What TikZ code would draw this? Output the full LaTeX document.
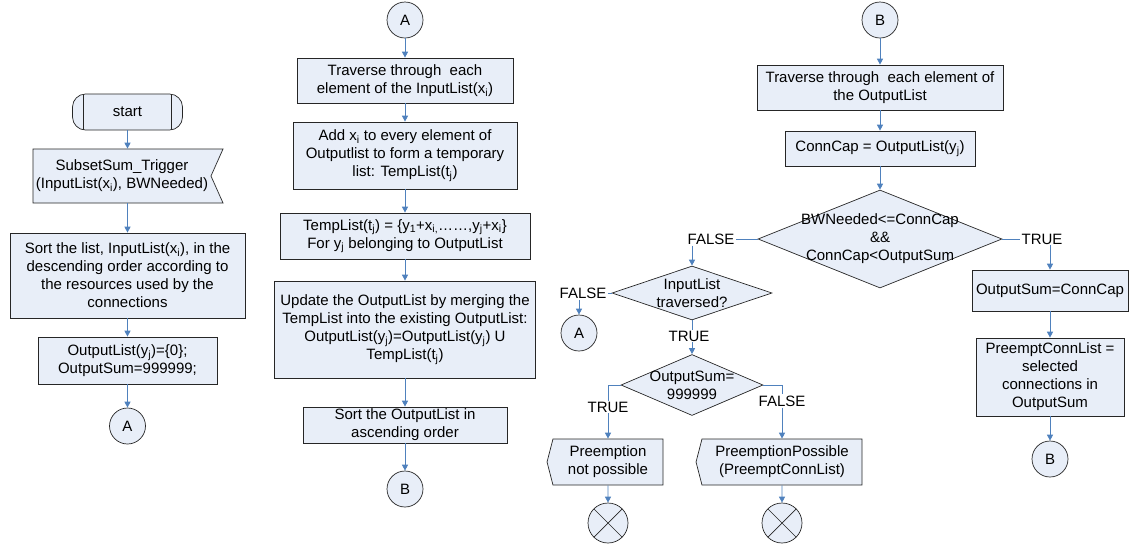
\documentclass[tikz,border=0pt]{standalone}
\usepackage{fontspec}
\setmainfont{Liberation Sans}
\usetikzlibrary{arrows.meta,shapes.geometric,shapes.symbols}
\definecolor{boxfill}{RGB}{232,238,248}
\definecolor{linkblue}{RGB}{79,129,189}
\tikzset{
  every node/.style={font=\fontsize{15pt}{18pt}\selectfont},
  proc/.style={draw=black!85, fill=boxfill, line width=0.7pt, align=center, inner sep=2pt},
  terminal/.style={proc, rounded corners=13pt, minimum width=110pt, minimum height=36pt,
    path picture={\draw[line width=0.7pt, black!85]
      ([xshift=11pt]path picture bounding box.north west) -- ([xshift=11pt]path picture bounding box.south west)
      ([xshift=-11pt]path picture bounding box.north east) -- ([xshift=-11pt]path picture bounding box.south east);}},
  decision/.style={diamond, draw=black!85, fill=boxfill, line width=0.7pt, inner sep=0pt},
  conn/.style={circle, draw=black!85, fill=boxfill, line width=0.7pt, minimum size=36pt, inner sep=0pt},
  endmark/.style={conn, minimum size=40pt,
    path picture={\draw[line width=0.7pt, black!85]
      (path picture bounding box.north west) -- (path picture bounding box.south east)
      (path picture bounding box.north east) -- (path picture bounding box.south west);}},
  tag/.style={inner sep=1pt},
  linkline/.style={draw=linkblue, line width=0.9pt},
  link/.style={linkline, -{Triangle[length=6pt,width=6pt]}}
}
\begin{document}
\begin{tikzpicture}[x=1pt,y=-1pt]
\useasboundingbox (0,0) rectangle (1130,547);
% left column
\node[terminal] (start) at (127.5,112) {start};
\node[proc, signal, signal to=nowhere, signal from=east, signal pointer angle=132,
  minimum width=190pt, minimum height=54pt] (trig) at (122,176)
  {SubsetSum\_Trigger\\(InputList(x\textsubscript{i}), BWNeeded)};
\node[proc, minimum width=235pt, minimum height=85pt] (sortin) at (127.5,275.5)
  {Sort the list, InputList(x\textsubscript{i}), in the\\descending order according to\\the resources used by the\\connections};
\node[proc, minimum width=179pt, minimum height=47pt] (init) at (127.5,360.5)
  {OutputList(y\textsubscript{j})=\{0\};\\OutputSum=999999;};
\node[conn] (a1) at (127.5,426) {A};
\draw[link] (start) -- (start |- trig.north);
\draw[link] (sortin |- trig.south) -- (sortin);
\foreach \u/\v in {sortin/init, init/a1}
  \draw[link] (\u) -- (\v);
% middle column
\node[conn] (a2) at (405,20) {A};
\node[proc, minimum width=216pt, minimum height=45pt] (trin) at (405,80.5)
  {Traverse through\ \ each\\element of the InputList(x\textsubscript{i})};
\node[proc, minimum width=224pt, minimum height=67pt] (addx) at (405,155.5)
  {Add x\textsubscript{i} to every element of\\Outputlist to form a temporary\\list: TempList(t\textsubscript{j})};
\node[proc, minimum width=250pt, minimum height=46pt] (temp) at (405,236)
  {TempList(t\textsubscript{j}) = \{y\textsubscript{1}+x\textsubscript{i,}……,y\textsubscript{j}+x\textsubscript{i}\}\\For y\textsubscript{j} belonging to OutputList};
\node[proc, minimum width=261pt, minimum height=97pt] (upd) at (405,329.5)
  {Update the OutputList by merging the\\TempList into the existing OutputList:\\OutputList(y\textsubscript{j})=OutputList(y\textsubscript{j}) U\\TempList(t\textsubscript{j})};
\node[proc, minimum width=204pt, minimum height=36pt] (sortout) at (405,425)
  {Sort the OutputList in\\ascending order};
\node[conn] (b2) at (405,489) {B};
\foreach \u/\v in {a2/trin, trin/addx, addx/temp, temp/upd, upd/sortout, sortout/b2}
  \draw[link] (\u) -- (\v);
% right column
\node[conn] (b3) at (880,20) {B};
\node[proc, minimum width=246pt, minimum height=45pt] (trout) at (880,87.5)
  {Traverse through\ \ each element of\\the OutputList};
\node[proc, minimum width=190pt, minimum height=35pt] (cap) at (880,148.5)
  {ConnCap = OutputList(y\textsubscript{j})};
\node[decision, minimum width=244pt, minimum height=98pt] (cmp) at (880,239) {};
\node[align=center] (cmpt) at (cmp) {BWNeeded<=ConnCap\\\&\&\\ConnCap<OutputSum};
\foreach \u/\v in {b3/trout, trout/cap, cap/cmp}
  \draw[link] (\u) -- (\v);
% FALSE branch
\node[tag] (f1) at (711,239) {FALSE};
\node[decision, minimum width=160pt, minimum height=54pt] (trv) at (692,293) {};
\node[align=center] (trvt) at (trv) {InputList\\traversed?};
\draw[linkline] (cmp.west) -- (f1.east);
\draw[link] (f1.south -| trv.north) -- (trv.north);
\node[tag] (f2) at (583,293) {FALSE};
\node[conn] (a3) at (579,333) {A};
\draw[linkline] (trv.west) -- (f2.east);
\draw[link] (f2.south -| a3.north) -- (a3.north);
\node[tag] (t1) at (689,336) {TRUE};
\node[decision, minimum width=142pt, minimum height=61pt] (sum) at (692,385) {};
\node[align=center] (sumt) at (sum) {OutputSum=\\999999};
\draw[linkline] (trv.south) -- (trv.south |- t1.north);
\draw[link] (trv.south |- t1.south) -- (sum.north);
\node[tag] (t2) at (608,407) {TRUE};
\node[tag] (f3) at (782,401) {FALSE};
\node[proc, signal, signal to=west, signal pointer angle=151,
  minimum width=116pt, minimum height=46pt] (nop) at (608,462) {Preemption\\not possible};
\node[proc, signal, signal to=west, signal pointer angle=151,
  minimum width=166pt, minimum height=46pt] (pos) at (782,462) {PreemptionPossible\\(PreemptConnList)};
\node[endmark] (end1) at (608,523) {};
\node[endmark] (end2) at (782,523) {};
\draw[linkline] (sum.west) -| (t2.north);
\draw[linkline] (sum.east) -| (f3.north);
\draw[link] (t2.south) -- (nop.north);
\draw[link] (f3.south) -- (pos.north);
\draw[link] (nop) -- (end1);
\draw[link] (pos) -- (end2);
% TRUE branch
\node[tag] (t3) at (1042,239) {TRUE};
\node[proc, minimum width=156pt, minimum height=41pt] (set) at (1050,290.5) {OutputSum=ConnCap};
\node[proc, minimum width=148pt, minimum height=78pt] (pcl) at (1050,377)
  {PreemptConnList =\\selected\\connections in\\OutputSum};
\node[conn] (b4) at (1050,459) {B};
\draw[linkline] (cmp.east) -- (t3.west);
\draw[link] (t3.south -| set.north) -- (set.north);
\draw[link] (set) -- (pcl);
\draw[link] (pcl) -- (b4);
\end{tikzpicture}
\end{document}
